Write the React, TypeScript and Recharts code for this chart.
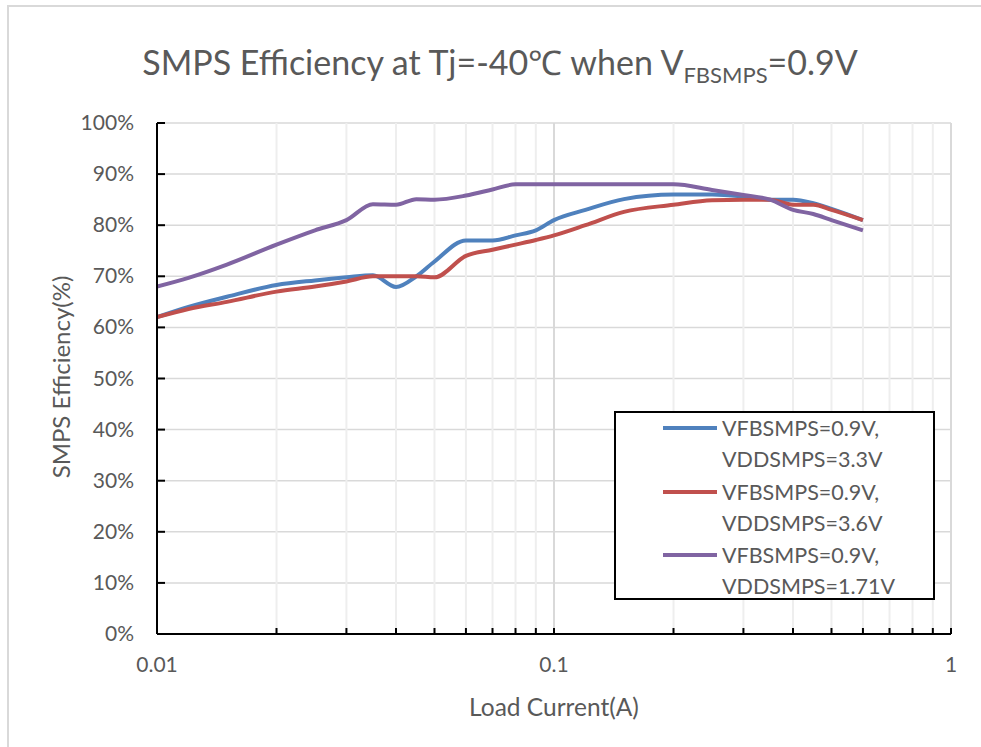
import { CartesianGrid, Legend, Line, LineChart, ReferenceLine, XAxis, YAxis } from "recharts";

const loadCurrent = [
  0.01, 0.012, 0.015, 0.02, 0.025, 0.03, 0.035, 0.04, 0.045, 0.05, 0.06, 0.07, 0.08, 0.09,
  0.1, 0.12, 0.15, 0.2, 0.25, 0.3, 0.35, 0.4, 0.45, 0.5, 0.6,
];
const eff33 = [62, 64, 66, 68.3, 69.2, 69.8, 70.2, 67.9, 70, 72.9, 77, 77, 78, 79, 81, 83, 85.1, 86, 86, 85.6, 85, 85, 84.3, 83.2, 81];
const eff36 = [62, 63.6, 65, 67, 68, 69, 70, 70, 70, 69.8, 74, 75.2, 76.2, 77.1, 78, 80, 82.6, 84, 84.9, 85, 85, 84, 84, 83, 81];
const eff171 = [68, 69.7, 72.3, 76.2, 79, 81, 84.1, 84, 85.1, 85, 85.8, 87, 88, 88, 88, 88, 88, 88, 86.9, 85.9, 85, 83, 82.2, 81, 79];

const seriesNames = [
  "VFBSMPS=0.9V, VDDSMPS=3.3V",
  "VFBSMPS=0.9V, VDDSMPS=3.6V",
  "VFBSMPS=0.9V, VDDSMPS=1.71V",
];
const seriesColors = ["#4F81BD", "#C0504D", "#8064A2"];

const yTicks = [0, 10, 20, 30, 40, 50, 60, 70, 80, 90, 100];
const xTicks = [
  0.01, 0.02, 0.03, 0.04, 0.05, 0.06, 0.07, 0.08, 0.09,
  0.1, 0.2, 0.3, 0.4, 0.5, 0.6, 0.7, 0.8, 0.9, 1,
];
const xLabels = ["0.01", "0.1", "1"];

const data = loadCurrent.map((x, i) => ({
  x,
  s33: eff33[i],
  s36: eff36[i],
  s171: eff171[i],
}));

const FONT = "Lato, 'Open Sans', sans-serif";
const TEXT = "#595959";

const renderXTick = (props: any) => {
  const { x, y, payload } = props;
  const label = xLabels.find((l) => Math.abs(parseFloat(l) - payload.value) < 1e-9);
  return (
    <g>
      <line x1={x} x2={x} y1={y} y2={y - 6} stroke="#000" strokeWidth={2} />
      {label && (
        <text x={x} y={y + 38} textAnchor="middle" fill={TEXT} fontSize={21} fontFamily={FONT}>
          {label}
        </text>
      )}
    </g>
  );
};

const renderYTick = (props: any) => {
  const { x, y, payload } = props;
  return (
    <g>
      <line x1={x} x2={x + 8} y1={y} y2={y} stroke="#000" strokeWidth={2} />
      <text x={x - 23} y={y + 7} textAnchor="end" fill={TEXT} fontSize={21} fontFamily={FONT}>
        {payload.value}%
      </text>
    </g>
  );
};

const LegendBox = () => (
  <div
    style={{
      position: "relative",
      width: 321,
      height: 189,
      border: "2px solid #000",
      boxSizing: "border-box",
      background: "#fff",
      fontFamily: FONT,
      color: TEXT,
      fontSize: 21.5,
    }}
  >
    {seriesNames.map((name, i) => {
      const [a, b] = name.split(", ");
      const top = 15 + i * 63.5;
      return (
        <div key={name}>
          <div
            style={{
              position: "absolute",
              left: 47,
              top: top - 2,
              width: 54,
              height: 4,
              background: seriesColors[i],
            }}
          />
          <div style={{ position: "absolute", left: 106, top: top - 15, lineHeight: "30px" }}>
            {a},
          </div>
          <div style={{ position: "absolute", left: 106, top: top + 16, lineHeight: "30px" }}>
            {b}
          </div>
        </div>
      );
    })}
  </div>
);

export default function App() {
  return (
    <div
      style={{
        position: "absolute",
        left: 0,
        top: 0,
        width: 981,
        height: 747,
        overflow: "hidden",
        background: "#fff",
      }}
    >
      {/* outer chart frame, only the top and left edges are inside the picture */}
      <div style={{ position: "absolute", left: 7, top: 5, width: 2, height: 742, background: "#d9d9d9" }} />
      <div style={{ position: "absolute", left: 7, top: 5, width: 974, height: 2, background: "#d9d9d9" }} />
      <div
        style={{
          position: "absolute",
          left: 0,
          top: 40,
          width: 1000,
          textAlign: "center",
          fontFamily: FONT,
          fontSize: 34,
          lineHeight: "44px",
          color: TEXT,
          whiteSpace: "nowrap",
        }}
      >
        SMPS Efficiency at Tj=-40℃ when V
        <span style={{ fontSize: 22, verticalAlign: -8 }}>FBSMPS</span>=0.9V
      </div>
      <div
        style={{
          position: "absolute",
          left: 60,
          top: 377,
          transform: "translate(-50%, -50%) rotate(-90deg)",
          fontFamily: FONT,
          fontSize: 24,
          color: TEXT,
          whiteSpace: "nowrap",
        }}
      >
        SMPS Efficiency(%)
      </div>
      <div
        style={{
          position: "absolute",
          left: 554,
          top: 706,
          transform: "translate(-50%, -50%)",
          fontFamily: FONT,
          fontSize: 24.5,
          color: TEXT,
          whiteSpace: "nowrap",
        }}
      >
        Load Current(A)
      </div>
      <div style={{ position: "absolute", left: 0, top: 0 }}>
        <LineChart
          width={981}
          height={747}
          data={data}
          margin={{ top: 123, right: 30, bottom: 53, left: 97 }}
        >
          <CartesianGrid horizontal vertical={false} stroke="#d9d9d9" strokeWidth={1.5} />
          {xTicks.map((v) => (
            <ReferenceLine
              key={v}
              x={v}
              stroke={v === 0.1 || v === 1 ? "#d9d9d9" : "#eeeeee"}
              strokeWidth={2}
            />
          ))}
          <XAxis
            dataKey="x"
            type="number"
            scale="log"
            domain={[0.01, 1]}
            ticks={xTicks}
            interval={0}
            height={60}
            tickSize={0}
            tickMargin={0}
            tickLine={false}
            axisLine={{ stroke: "#000", strokeWidth: 2 }}
            tick={renderXTick}
            allowDataOverflow
          />
          <YAxis
            type="number"
            domain={[0, 100]}
            ticks={yTicks}
            interval={0}
            width={60}
            tickSize={0}
            tickMargin={0}
            tickLine={false}
            axisLine={{ stroke: "#000", strokeWidth: 2 }}
            tick={renderYTick}
          />
          <Legend
            layout="horizontal"
            verticalAlign="middle"
            align="center"
            wrapperStyle={{ left: 614, top: 411, width: 321, height: 189 }}
            content={() => <LegendBox />}
          />
          <Line type="monotone" dataKey="s33" name={seriesNames[0]} stroke={seriesColors[0]} strokeWidth={4} dot={false} isAnimationActive={false} />
          <Line type="monotone" dataKey="s36" name={seriesNames[1]} stroke={seriesColors[1]} strokeWidth={4} dot={false} isAnimationActive={false} />
          <Line type="monotone" dataKey="s171" name={seriesNames[2]} stroke={seriesColors[2]} strokeWidth={4} dot={false} isAnimationActive={false} />
        </LineChart>
      </div>
    </div>
  );
}
